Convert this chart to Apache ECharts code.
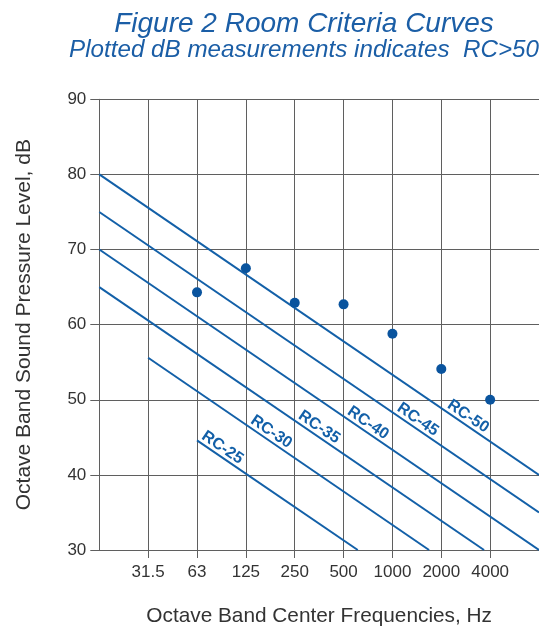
<!DOCTYPE html>
<html><head><meta charset="utf-8">
<script src="https://cdn.jsdelivr.net/npm/echarts@6/dist/echarts.min.js"></script>
<style>html,body{margin:0;padding:0;background:#fff}#c{width:539px;height:632px}</style>
</head><body><div id="c"></div>
<script>
// ---- data ----
const freqLabels = ['', '31.5', '63', '125', '250', '500', '1000', '2000', '4000'];
const measuredX = [2, 3, 4, 5, 6, 7, 8];
const measuredDb = [64.3, 67.5, 62.9, 62.7, 58.8, 54.1, 50.0];
const rcNames = ['RC-25', 'RC-30', 'RC-35', 'RC-40', 'RC-45', 'RC-50'];
const rcStart = [[2, 44.6], [1, 55.6], [0, 65], [0, 70], [0, 75], [0, 80]];
const rcEnd = [[5.29, 30], [6.75, 30], [7.875, 30], [9, 30], [9, 35], [9, 40]];
const rcLabelX = [2.52, 3.52, 4.5, 5.5, 6.52, 7.55];
const yMin = 30, yMax = 90, yStep = 10;

// ---- styles ----
const BLUE = '#1360a8';
const DOT = '#0a549e';
const GRID = '#5f5f5f';
const TXT = '#333333';
const FONT = '"Liberation Sans", Arial, Helvetica, sans-serif';
const LABEL_LIFT = 1.35; // dB above the curve

function onLine(i, x) {
  const [x0, y0] = rcStart[i], [x1, y1] = rcEnd[i];
  return y0 + (y1 - y0) * (x - x0) / (x1 - x0);
}

const series = [];
rcNames.forEach((name, i) => {
  series.push({
    type: 'line', name: name, data: [rcStart[i], rcEnd[i]],
    symbol: 'none', lineStyle: { color: BLUE, width: 2 }, silent: true, z: 2
  });
});
series.push({
  type: 'scatter', name: 'labels',
  data: rcNames.map((n, i) => ({ value: [rcLabelX[i], onLine(i, rcLabelX[i]) + LABEL_LIFT], name: n })),
  symbolSize: 1, itemStyle: { color: 'rgba(0,0,0,0)' }, silent: true,
  label: { show: true, position: 'inside', formatter: p => p.name, rotate: -34.3,
    color: BLUE, fontFamily: FONT, fontWeight: 'bold', fontSize: 16, opacity: 1 },
  z: 3
});
series.push({
  type: 'scatter', name: 'measured',
  data: measuredX.map((x, i) => [x, measuredDb[i]]),
  symbol: 'circle', symbolSize: 10, itemStyle: { color: DOT, opacity: 1 }, z: 4
});

const chart = echarts.init(document.getElementById('c'), null, { renderer: 'canvas' });
chart.setOption({
  animation: false,
  backgroundColor: '#ffffff',
  graphic: [
    { type: 'text', x: 304, y: 24, style: { text: 'Figure 2 Room Criteria Curves', fill: '#1b5ea6',
      font: 'italic 28px ' + FONT, textAlign: 'center', textVerticalAlign: 'middle' } },
    { type: 'text', x: 304, y: 50, style: { text: 'Plotted dB measurements indicates  RC>50', fill: '#1b5ea6',
      font: 'italic 24.2px ' + FONT, textAlign: 'center', textVerticalAlign: 'middle' } }
  ],
  grid: { left: 99.3, top: 99.3, bottom: 79.3, right: -2.4, containLabel: false },
  xAxis: {
    type: 'value', min: 0, max: 9, interval: 1,
    name: 'Octave Band Center Frequencies, Hz', nameLocation: 'middle', nameGap: 56,
    nameTextStyle: { color: TXT, fontSize: 20.8, fontFamily: FONT },
    axisLine: { show: true, lineStyle: { color: GRID, width: 1 } },
    axisTick: { show: true, length: 8, lineStyle: { color: GRID, width: 1 }, customValues: [1, 2, 3, 4, 5, 6, 7, 8] },
    axisLabel: { color: TXT, fontSize: 17, fontFamily: FONT, margin: 14,
      customValues: [1, 2, 3, 4, 5, 6, 7, 8],
      formatter: v => freqLabels[Math.round(v)] || '' },
    splitLine: { show: true, lineStyle: { color: GRID, width: 1 } }
  },
  yAxis: {
    type: 'value', min: yMin, max: yMax, interval: yStep,
    name: 'Octave Band Sound Pressure Level, dB', nameLocation: 'middle', nameGap: 65,
    nameTextStyle: { color: TXT, fontSize: 21, fontFamily: FONT },
    axisLine: { show: true, lineStyle: { color: GRID, width: 1 } },
    axisTick: { show: true, length: 9, lineStyle: { color: GRID, width: 1 } },
    axisLabel: { color: TXT, fontSize: 17, fontFamily: FONT, margin: 13 },
    splitLine: { show: true, lineStyle: { color: GRID, width: 1 } }
  },
  series: series
});
</script>
</body></html>
